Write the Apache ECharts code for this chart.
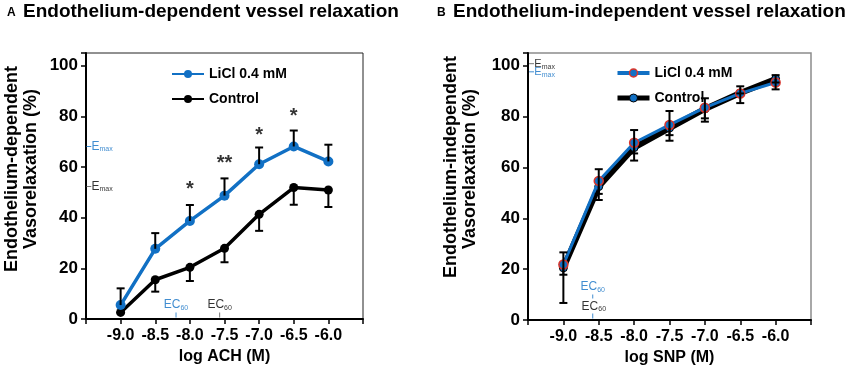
<!DOCTYPE html>
<html>
<head>
<meta charset="utf-8">
<script src="https://cdn.jsdelivr.net/npm/echarts@6/dist/echarts.min.js"></script>
<style>
  html, body { margin: 0; padding: 0; background: #fff; }
  #main { width: 856px; height: 371px; }
</style>
</head>
<body>
<div id="main"></div>
<script>
var FONT = 'Liberation Sans, Arial, sans-serif';
var BLUE = '#1170c4';

// log concentration (M)
var doses = [-9.0, -8.5, -8.0, -7.5, -7.0, -6.5, -6.0];

// panel A: ACH
var achLiCl = [5.5, 27.7, 38.7, 48.7, 61.1, 68.1, 62.2];
var achLiClUpper = [12.1, 33.9, 45.0, 55.5, 67.7, 74.4, 68.8];
var achControl = [2.6, 15.5, 20.4, 27.9, 41.3, 51.9, 50.9];
var achControlLower = [2.6, 10.8, 15.0, 22.4, 34.8, 45.1, 44.2];

// panel B: SNP
var snpLiCl = [21.8, 54.7, 69.7, 76.7, 83.5, 89.1, 93.4];
var snpLiClUpper = [26.6, 59.3, 74.7, 82.2, 87.2, 91.9, 96.3];
var snpLiClLower = [17.8, 49.6, 65.5, 72.7, 79.3, 89.1, 93.4];
var snpControl = [20.5, 52.5, 67.8, 75.5, 83.0, 89.3, 94.8];
var snpControlLower = [6.7, 47.2, 62.7, 70.5, 78.0, 85.3, 90.7];

// significance marks on panel A
var starDoses = [-8.0, -7.5, -7.0, -6.5];
var starText = ['*', '**', '*', '*'];
var starY = [51, 61.5, 72.6, 79.8];

function pairs(xs, ys) {
  return xs.map(function (x, i) { return [x, ys[i]]; });
}

function errorBars(idx, lows, highs, capLow, capHigh) {
  return {
    type: 'custom',
    xAxisIndex: idx, yAxisIndex: idx,
    z: 5,
    silent: true,
    data: doses.map(function (x, i) { return [x, lows[i], highs[i]]; }),
    renderItem: function (params, api) {
      var lo = api.coord([api.value(0), api.value(1)]);
      var hi = api.coord([api.value(0), api.value(2)]);
      var st = { stroke: '#000', lineWidth: 2 };
      var kids = [{ type: 'line', shape: { x1: lo[0], y1: lo[1], x2: hi[0], y2: hi[1] }, style: st }];
      if (capLow) kids.push({ type: 'line', shape: { x1: lo[0] - 4, y1: lo[1], x2: lo[0] + 4, y2: lo[1] }, style: st });
      if (capHigh) kids.push({ type: 'line', shape: { x1: hi[0] - 4, y1: hi[1], x2: hi[0] + 4, y2: hi[1] }, style: st });
      return { type: 'group', children: kids };
    }
  };
}

function note(idx, x, y, text, color, size, extra) {
  return {
    type: 'scatter', xAxisIndex: idx, yAxisIndex: idx, silent: true, z: 6,
    symbolSize: 0,
    data: [[x, y]],
    label: Object.assign({
      show: true, position: 'inside', formatter: text,
      color: color, fontFamily: FONT, fontSize: size,
      rich: {
        b: { fontSize: size, color: color, fontFamily: FONT, lineHeight: 14 },
        s: { fontSize: 7, color: color, fontFamily: FONT, lineHeight: 14, padding: [6, 0, 0, 0] }
      }
    }, extra || {})
  };
}

function tick(idx, x, y, color, w, h) {
  return {
    type: 'scatter', xAxisIndex: idx, yAxisIndex: idx, silent: true, z: 6,
    symbol: 'rect', symbolSize: [w, h],
    itemStyle: { color: color },
    data: [[x, y]]
  };
}

function xAxis(idx, name) {
  return {
    type: 'value', gridIndex: idx, min: -9.5, max: -5.5, interval: 0.5,
    name: name, nameLocation: 'middle', nameGap: 30,
    nameTextStyle: { fontFamily: FONT, fontSize: 16, fontWeight: 'bold', color: '#000' },
    axisLine: { onZero: false, lineStyle: { color: '#000', width: 2 } },
    axisTick: { length: 5, lineStyle: { color: '#000', width: 1.5 } },
    axisLabel: {
      margin: 9, fontFamily: FONT, fontSize: 16, fontWeight: 'bold', color: '#000',
      formatter: function (v) { return (v < -9.25 || v > -5.75) ? '' : v.toFixed(1); }
    },
    splitLine: { show: false }
  };
}

function yAxis(idx) {
  return {
    type: 'value', gridIndex: idx, min: 0, max: 105, interval: 20,
    axisLine: { show: true, lineStyle: { color: '#000', width: 2 } },
    axisTick: { show: true, length: 5, lineStyle: { color: '#000', width: 1.5 } },
    axisLabel: {
      margin: 8, fontFamily: FONT, fontSize: 17, fontWeight: 'bold', color: '#000',
      formatter: function (v) { return v > 100 ? '' : v; }
    },
    splitLine: { show: false }
  };
}

var legendText = { fontFamily: FONT, fontSize: 14, fontWeight: 'bold', color: '#000' };

var option = {
  animation: false,
  backgroundColor: '#fff',
  grid: [
    { left: 86, top: 53, width: 277, height: 266, show: true, borderColor: '#222', borderWidth: 1 },
    { left: 528, top: 53, width: 283, height: 267, show: true, borderColor: '#8c8c8c', borderWidth: 1.5 }
  ],
  xAxis: [xAxis(0, 'log ACH (M)'), xAxis(1, 'log SNP (M)')],
  yAxis: [yAxis(0), yAxis(1)],
  legend: [
    {
      left: 166, top: 62, orient: 'vertical', itemGap: 11, itemWidth: 32, itemHeight: 10,
      textStyle: legendText, selectedMode: false,
      data: ['LiCl 0.4 mM', 'Control']
    },
    {
      left: 610, top: 61, orient: 'vertical', itemGap: 11, itemWidth: 32, itemHeight: 10,
      textStyle: legendText, selectedMode: false,
      data: [
        { name: 'LiCl 0.4 mM', itemStyle: { color: BLUE, borderColor: '#d9342b', borderWidth: 1.5 }, lineStyle: { color: BLUE, width: 4 } },
        { name: 'Control', itemStyle: { color: BLUE, borderColor: '#000', borderWidth: 1 }, lineStyle: { color: '#000', width: 5 } }
      ]
    }
  ],
  graphic: [
    { type: 'text', left: 7, top: 7, style: { text: 'A', font: 'bold 12px ' + FONT, fill: '#000' } },
    { type: 'text', left: 23, top: 2, style: { text: 'Endothelium-dependent vessel relaxation', font: 'bold 19px ' + FONT, fill: '#000' } },
    { type: 'text', left: 437, top: 7, style: { text: 'B', font: 'bold 12px ' + FONT, fill: '#000' } },
    { type: 'text', left: 453, top: 2, style: { text: 'Endothelium-independent vessel relaxation', font: 'bold 19px ' + FONT, fill: '#000' } },
    { type: 'text', x: 12, y: 169, rotation: Math.PI / 2, style: { text: 'Endothelium-dependent', font: 'bold 18px ' + FONT, fill: '#000', align: 'center', verticalAlign: 'middle' } },
    { type: 'text', x: 31, y: 169, rotation: Math.PI / 2, style: { text: 'Vasorelaxation (%)', font: 'bold 18px ' + FONT, fill: '#000', align: 'center', verticalAlign: 'middle' } },
    { type: 'text', x: 451, y: 167, rotation: Math.PI / 2, style: { text: 'Endothelium-independent', font: 'bold 18px ' + FONT, fill: '#000', align: 'center', verticalAlign: 'middle' } },
    { type: 'text', x: 470, y: 169, rotation: Math.PI / 2, style: { text: 'Vasorelaxation (%)', font: 'bold 18px ' + FONT, fill: '#000', align: 'center', verticalAlign: 'middle' } }
  ],
  series: [
    // panel A
    errorBars(0, achLiCl, achLiClUpper, false, true),
    errorBars(0, achControlLower, achControl, true, false),
    {
      name: 'Control', type: 'line', xAxisIndex: 0, yAxisIndex: 0, z: 3,
      data: pairs(doses, achControl),
      symbol: 'circle', symbolSize: 9,
      lineStyle: { color: '#000', width: 3.5 },
      itemStyle: { color: '#000' }
    },
    {
      name: 'LiCl 0.4 mM', type: 'line', xAxisIndex: 0, yAxisIndex: 0, z: 4,
      data: pairs(doses, achLiCl),
      symbol: 'circle', symbolSize: 10,
      lineStyle: { color: BLUE, width: 3.5 },
      itemStyle: { color: BLUE }
    },
    {
      type: 'scatter', xAxisIndex: 0, yAxisIndex: 0, silent: true, z: 6, symbolSize: 0,
      data: starDoses.map(function (x, i) { return { value: [x, starY[i]], label: { formatter: starText[i] } }; }),
      label: { show: true, position: 'inside', fontFamily: FONT, fontSize: 20, fontWeight: 'bold', color: '#000' }
    },
    tick(0, -9.46, 68.1, BLUE, 5, 1),
    note(0, -9.42, 68.1, '{b|E}{s|max}', BLUE, 12, { position: 'right', distance: 0 }),
    tick(0, -9.46, 52.3, '#555', 5, 1),
    note(0, -9.42, 52.3, '{b|E}{s|max}', '#000', 12, { position: 'right', distance: 0 }),
    note(0, -8.2, 5.6, '{b|EC}{s|60}', BLUE, 12),
    tick(0, -8.2, 1.6, BLUE, 1, 5),
    note(0, -7.57, 5.6, '{b|EC}{s|60}', '#000', 12),
    tick(0, -7.57, 1.6, '#555', 1, 5),

    // panel B
    {
      name: 'Control', type: 'line', xAxisIndex: 1, yAxisIndex: 1, z: 3,
      data: pairs(doses, snpControl),
      symbol: 'circle', symbolSize: 8,
      lineStyle: { color: '#000', width: 6 },
      itemStyle: { color: BLUE, borderColor: '#000', borderWidth: 1 }
    },
    {
      name: 'LiCl 0.4 mM', type: 'line', xAxisIndex: 1, yAxisIndex: 1, z: 4,
      data: pairs(doses, snpLiCl),
      symbol: 'circle', symbolSize: 9,
      lineStyle: { color: BLUE, width: 3 },
      itemStyle: { color: BLUE, borderColor: '#d9342b', borderWidth: 1.5 }
    },
    errorBars(1, snpControlLower, snpControl, true, false),
    errorBars(1, snpLiClLower, snpLiClUpper, true, true),
    tick(1, -9.45, 100.8, '#555', 5, 1),
    note(1, -9.41, 100.8, '{b|E}{s|max}', '#000', 11, { position: 'right', distance: 0 }),
    tick(1, -9.45, 97.6, BLUE, 5, 1),
    note(1, -9.41, 97.6, '{b|E}{s|max}', BLUE, 11, { position: 'right', distance: 0 }),
    note(1, -8.585, 13.0, '{b|EC}{s|60}', BLUE, 12),
    tick(1, -8.585, 9.2, BLUE, 1, 4),
    note(1, -8.57, 5.3, '{b|EC}{s|60}', '#000', 12),
    tick(1, -8.585, 1.6, BLUE, 1, 5)
  ]
};

var chart = echarts.init(document.getElementById('main'));
chart.setOption(option);
</script>
</body>
</html>
